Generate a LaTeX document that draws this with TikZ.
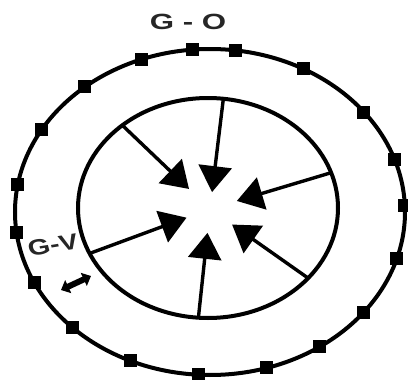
\documentclass[tikz,border=0pt]{standalone}
\usepackage{fontspec}
\setmainfont{Liberation Sans}
\usetikzlibrary{shapes.geometric, arrows.meta}

\tikzset{
    ring/.style={ellipse, draw, line width=4pt, inner sep=0pt, outer sep=0pt},
    pad/.style={rectangle, fill=black, minimum size=13pt, inner sep=0pt},
    flow/.style={line width=3.4pt, -{Triangle[length=26pt, width=33pt]}},
    gap/.style={line width=6pt, {Triangle[length=8pt, width=14pt]}-{Triangle[length=8pt, width=14pt]}},
    lbl/.style={font=\bfseries\fontsize{22}{22}\selectfont, text=black!85, inner sep=0pt}
}

\begin{document}
\begin{tikzpicture}[x=1pt, y=-1pt]
    \useasboundingbox (0,0) rectangle (408,380);

    \node[ring, minimum width=390pt, minimum height=326pt] (outer) at (210,212) {};
    \node[ring, minimum width=260pt, minimum height=220pt] (inner) at (208,208) {};
    \coordinate (ctr) at (210,209);

    \node[lbl, xscale=1.42] (go) at (188,22) {G - O};
    \node[lbl, xscale=1.3, rotate=12] (gv) at (53,245) {G-V};

    % pads on the outer ring
    \foreach \a [count=\i] in {114,96,81,57,33,16,2,-14,-33,-51,-70,-94,-118,-140,-158,-174,172,154,135}
        \node[pad] (p\i) at (outer.\a) {};

    % arrows towards the centre
    \foreach \a/\s [count=\i] in {136/29, 82/17, 16/28, 201/25, 265/24, 325/27}
        \draw[flow, shorten >=\s pt] (inner.\a) -- (ctr);

    \coordinate (gva) at (61,290);
    \coordinate (gvb) at (91,276);
    \draw[gap] (gva) -- (gvb);

\end{tikzpicture}
\end{document}
